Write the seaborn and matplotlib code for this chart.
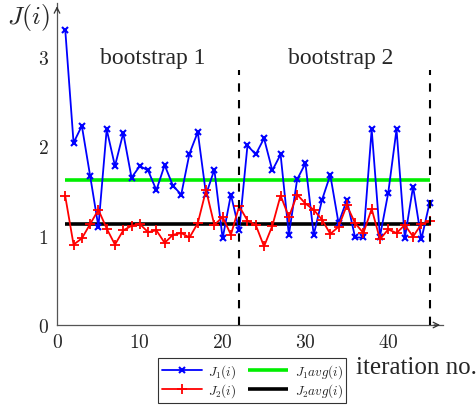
import pandas as pd
import seaborn as sns
import matplotlib.pyplot as plt
import numpy as np

# values
iterations = list(range(1, 46))
j1 = [3.30, 2.04, 2.23, 1.67, 1.10, 2.19, 1.78, 2.15, 1.65, 1.78,
      1.73, 1.51, 1.79, 1.56, 1.46, 1.92, 2.16, 1.46, 1.74, 0.97,
      1.46, 1.06, 2.01, 1.91, 2.09, 1.73, 1.91, 1.01, 1.63, 1.81,
      1.01, 1.40, 1.68, 1.14, 1.40, 0.98, 0.98, 2.19, 0.99, 1.48,
      2.19, 0.97, 1.55, 0.96, 1.37]
j2 = [1.44, 0.90, 0.97, 1.13, 1.29, 1.08, 0.90, 1.06, 1.11, 1.13,
      1.04, 1.06, 0.92, 1.01, 1.03, 0.98, 1.14, 1.51, 1.12, 1.21,
      1.01, 1.33, 1.17, 1.12, 0.88, 1.11, 1.45, 1.21, 1.46, 1.36,
      1.29, 1.18, 1.02, 1.10, 1.34, 1.14, 1.03, 1.30, 0.96, 1.07,
      1.03, 1.12, 0.99, 1.13, 1.16]
j1_avg = 1.62
j2_avg = 1.13
bootstrap_ends = [22, 45]
bootstrap_labels = ['bootstrap 1', 'bootstrap 2']
bootstrap_label_x = [11.6, 34.2]
xticks = [0, 10, 20, 30, 40]
yticks = [0, 1, 2, 3]

df = pd.DataFrame({'iteration': iterations, 'J1': j1, 'J2': j2})

sns.set_style('white')
plt.rcParams['font.family'] = ['Liberation Serif', 'DejaVu Serif']
plt.rcParams['mathtext.fontset'] = 'cm'

fig = plt.figure(figsize=(4.77, 4.06), dpi=100)
ax = fig.add_axes([0.1195, 0.197, 0.809, 0.792])

sns.lineplot(data=df, x='iteration', y='J1', ax=ax, color='blue',
             marker='x', markersize=5, markeredgewidth=1.5,
             markeredgecolor='blue', linewidth=1.3, label=r'$J_1(i)$')
sns.lineplot(data=df, x='iteration', y='J2', ax=ax, color='red',
             marker='+', markersize=6.5, markeredgewidth=1.3,
             markeredgecolor='red', linewidth=1.3, label=r'$J_2(i)$')
ax.hlines(j1_avg, iterations[0], iterations[-1], color='#00ee00',
          linewidth=2.6, label=r'$J_1avg(i)$', zorder=1)
ax.hlines(j2_avg, iterations[0], iterations[-1], color='black',
          linewidth=2.6, label=r'$J_2avg(i)$', zorder=1)

for xb in bootstrap_ends:
    ax.vlines(xb, 0, 2.85, color='black', linestyle=(0, (4, 4)),
              linewidth=1.5, zorder=4)
for xt, lab in zip(bootstrap_label_x, bootstrap_labels):
    ax.text(xt, 3.0, lab, ha='center', va='center', fontsize=17)

ax.set_xlim(0, 46.6)
ax.set_ylim(0, 3.6)
ax.set_xticks(xticks)
ax.set_xticklabels([f'${v}$' for v in xticks])
ax.set_yticks(yticks)
ax.set_yticklabels([f'${v}$' for v in yticks])
ax.tick_params(direction='inout', length=6, width=0.6, color='#777777',
               labelsize=14, pad=3)
ax.set_xlabel('')
ax.set_ylabel('')

for side in ['top', 'right']:
    ax.spines[side].set_visible(False)
for side in ['left', 'bottom']:
    ax.spines[side].set_color('#555555')
    ax.spines[side].set_linewidth(0.9)

# arrow heads on the axes
ax.annotate('', xy=(1.0, 0), xytext=(0.97, 0), xycoords='axes fraction',
            arrowprops=dict(arrowstyle='->', color='#333333', lw=0.9))
ax.annotate('', xy=(0, 1.0), xytext=(0, 0.97), xycoords='axes fraction',
            arrowprops=dict(arrowstyle='->', color='#333333', lw=0.9))

fig.text(0.059, 0.956, r'$J(i)$', fontsize=18.5, ha='center', va='center')
fig.text(0.872, 0.094, 'iteration no.', fontsize=18, ha='center', va='center')

handles, labels = ax.get_legend_handles_labels()
order = [labels.index(r'$J_1(i)$'), labels.index(r'$J_2(i)$'),
         labels.index(r'$J_1avg(i)$'), labels.index(r'$J_2avg(i)$')]
leg = ax.legend([handles[k] for k in order], [labels[k] for k in order],
                ncol=2, fontsize=9.5, loc='upper left',
                bbox_to_anchor=(158 / 477, (406 - 359) / 406),
                bbox_transform=fig.transFigure,
                frameon=True, fancybox=False, edgecolor='black',
                handlelength=3.0, columnspacing=0.9, handletextpad=0.5,
                borderpad=0.3, labelspacing=0.15, borderaxespad=0)
leg.get_frame().set_linewidth(0.8)

fig.savefig('out.png', dpi=100)
